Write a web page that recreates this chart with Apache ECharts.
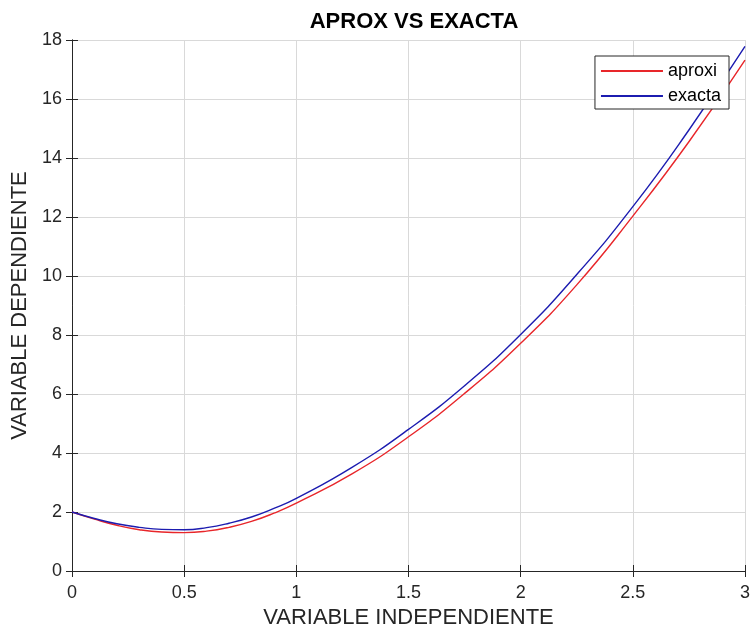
<!DOCTYPE html>
<html>
<head>
<meta charset="utf-8">
<script src="https://cdn.jsdelivr.net/npm/echarts@6/dist/echarts.min.js"></script>
<style>html,body{margin:0;padding:0;background:#fff;}#c{width:753px;height:636px;}</style>
</head>
<body>
<div id="c"></div>
<script>
var titleText = 'APROX VS EXACTA';
var xName = 'VARIABLE INDEPENDIENTE';
var yName = 'VARIABLE DEPENDIENTE';
var xs      = [0, 0.1, 0.2, 0.3, 0.4, 0.5, 0.6, 0.7, 0.8, 0.9, 1.0, 1.25, 1.5, 1.75, 2.0, 2.25, 2.5, 2.75, 3.0];
var exacta  = [2.00, 1.78, 1.60, 1.48, 1.41, 1.40, 1.47, 1.62, 1.83, 2.12, 2.46, 3.52, 4.80, 6.28, 8.02, 10.05, 12.35, 14.95, 17.78];
var aproxi  = [2.00, 1.76, 1.55, 1.40, 1.32, 1.30, 1.35, 1.48, 1.68, 1.96, 2.30, 3.30, 4.55, 6.02, 7.72, 9.70, 12.03, 14.55, 17.32];
var seriesNames = ['aproxi', 'exacta'];

function pairs(ys){ return xs.map(function(x,i){ return [x, ys[i]]; }); }

var font = '"Liberation Sans", Arial, Helvetica, sans-serif';
var axisColor = '#262626';
var chart = echarts.init(document.getElementById('c'), null, {renderer:'canvas'});
chart.setOption({
  backgroundColor: '#ffffff',
  animation: false,
  textStyle: {fontFamily: font},
  title: {
    text: titleText, left: 409, top: 6, textAlign: 'center',
    textStyle: {fontFamily: font, fontSize: 22, fontWeight: 'bold', color: '#000'}
  },
  legend: {
    data: seriesNames, orient: 'vertical', right: 24, top: 56,
    itemWidth: 62, itemHeight: 2, itemGap: 5, icon: 'rect',
    backgroundColor: '#fff', borderColor: '#262626', borderWidth: 1,
    padding: [5, 8, 3, 6],
    textStyle: {fontFamily: font, fontSize: 18, color: '#000', lineHeight: 20}
  },
  grid: {left: 72, right: 7, top: 40, bottom: 65, containLabel: false},
  xAxis: [{
    type: 'value', min: 0, max: 3, interval: 0.5,
    name: xName, nameLocation: 'middle', nameGap: 35,
    nameTextStyle: {fontFamily: font, fontSize: 22, color: '#262626'},
    axisLine: {show: true, lineStyle: {color: axisColor, width: 1}},
    axisTick: {show: true, inside: true, length: 6, lineStyle: {color: axisColor}},
    axisLabel: {fontFamily: font, fontSize: 18, color: '#262626', margin: 13},
    splitLine: {show: true, lineStyle: {color: '#d9d9d9', width: 1}}
  }, {
    type: 'value', min: 0, max: 3, interval: 0.5, position: 'top',
    axisLine: {show: true, lineStyle: {color: axisColor, width: 1}},
    axisTick: {show: true, inside: true, length: 6, lineStyle: {color: axisColor}},
    axisLabel: {show: false}, splitLine: {show: false}
  }],
  yAxis: [{
    type: 'value', min: 0, max: 18, interval: 2,
    name: yName, nameLocation: 'middle', nameGap: 34, nameRotate: 90,
    nameTextStyle: {fontFamily: font, fontSize: 22, color: '#262626'},
    axisLine: {show: true, lineStyle: {color: axisColor, width: 1}},
    axisTick: {show: true, inside: true, length: 6, lineStyle: {color: axisColor}},
    axisLabel: {fontFamily: font, fontSize: 18, color: '#262626', margin: 10},
    splitLine: {show: true, lineStyle: {color: '#d9d9d9', width: 1}}
  }, {
    type: 'value', min: 0, max: 18, interval: 2, position: 'right',
    axisLine: {show: true, lineStyle: {color: axisColor, width: 1}},
    axisTick: {show: true, inside: true, length: 6, lineStyle: {color: axisColor}},
    axisLabel: {show: false}, splitLine: {show: false}
  }],
  series: [{
    name: seriesNames[0], type: 'line', data: pairs(aproxi), smooth: true,
    showSymbol: false, symbol: 'none', color: '#e8262a',
    lineStyle: {color: '#e8262a', width: 1.4}, z: 2
  }, {
    name: seriesNames[1], type: 'line', data: pairs(exacta), smooth: true,
    showSymbol: false, symbol: 'none', color: '#1c1cb0',
    lineStyle: {color: '#1c1cb0', width: 1.4}, z: 3
  }]
});
</script>
</body>
</html>
